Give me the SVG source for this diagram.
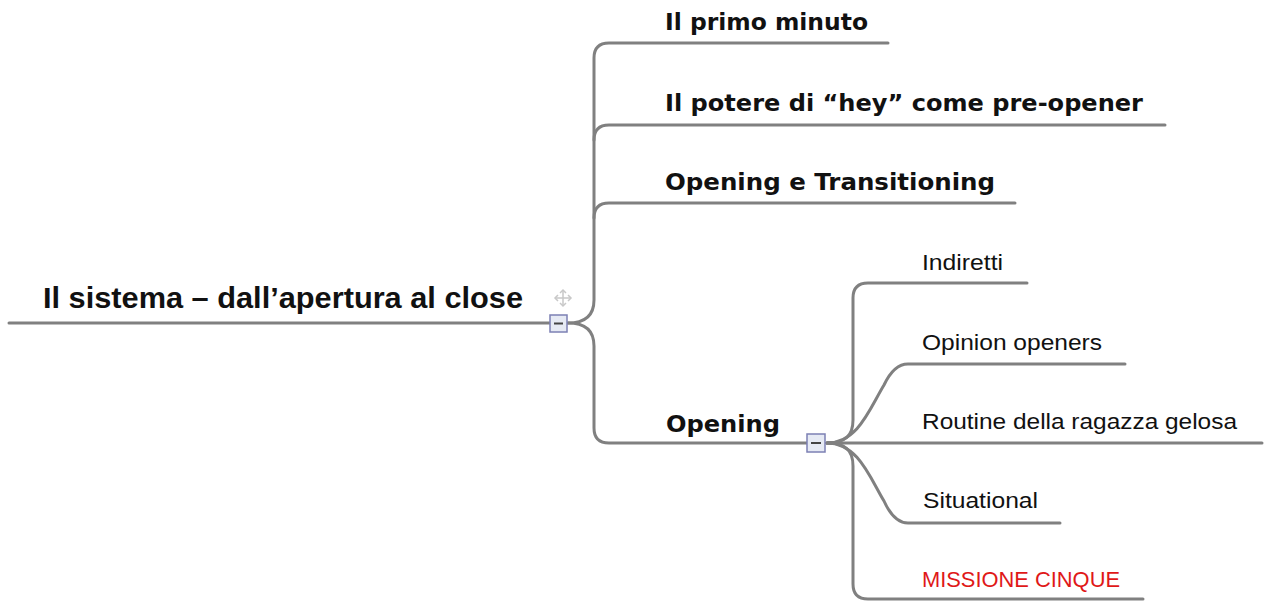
<svg xmlns="http://www.w3.org/2000/svg" width="1265" height="601" viewBox="0 0 1265 601">
<style>
.ln{fill:none;stroke:#808080;stroke-width:3;stroke-linecap:round}
.t1{font-family:"DejaVu Sans",Verdana,sans-serif;font-weight:bold;font-size:23px;fill:#111}
.t0{font-family:"Liberation Sans",Arial,sans-serif;font-weight:bold;font-size:30px;fill:#111}
.t2{font-family:"Liberation Sans",Arial,sans-serif;font-size:22px;fill:#111}
.box{fill:#e6eaf4;stroke:#7c80b4;stroke-width:1.5}
.minus{stroke:#444;stroke-width:2}
</style>
<rect width="1265" height="601" fill="#fff"/>
<g id="connectors">
<path class="ln" d="M9,323 L550,323"/>
<path class="ln" d="M568,323 C585,323 594,316 594,300 L594,58 Q594,43 609,43 L888,43"/>
<path class="ln" d="M594,140 Q594,125 609,125 L1165,125"/>
<path class="ln" d="M594,218 Q594,203 609,203 L1015,203"/>
<path class="ln" d="M568,323 C585,323 594,330 594,346 L594,428 Q594,443 609,443 L807,443"/>
<path class="ln" d="M827,443 C845,443 853,436 853,420 L853,298 Q853,283 868,283 L1027,283"/>
<path class="ln" d="M827,443 C858,443 870,408 884,385 Q894,364 908,364 L1125,364"/>
<path class="ln" d="M827,443 L1262,443"/>
<path class="ln" d="M827,443 C858,443 870,478 884,501 Q894,523 908,523 L1060,523"/>
<path class="ln" d="M827,443 C845,443 853,450 853,466 L853,584 Q853,599 868,599 L1143,599"/>
</g>
<g id="root">
<text class="t0" x="43" y="308" textLength="480" lengthAdjust="spacingAndGlyphs">Il sistema – dall’apertura al close</text>
<rect class="box" x="550" y="315" width="17" height="17"/>
<line class="minus" x1="554" y1="323.5" x2="563" y2="323.5"/>
<g id="move-icon" fill="none" stroke="#c8c8c8" stroke-width="1.5">
<path d="M563,290 L563,306 M555,298 L571,298"/>
<path d="M560,293 L563,290 L566,293 M560,303 L563,306 L566,303 M558,295 L555,298 L558,301 M568,295 L571,298 L568,301"/>
</g>
</g>
<g id="n-primo"><text class="t1" x="665" y="30" textLength="203" lengthAdjust="spacingAndGlyphs">Il primo minuto</text></g>
<g id="n-potere"><text class="t1" x="665" y="111" textLength="478" lengthAdjust="spacingAndGlyphs">Il potere di “hey” come pre-opener</text></g>
<g id="n-opentrans"><text class="t1" x="665" y="190" textLength="330" lengthAdjust="spacingAndGlyphs">Opening e Transitioning</text></g>
<g id="n-opening">
<text class="t1" x="666" y="432" textLength="114" lengthAdjust="spacingAndGlyphs">Opening</text>
<rect class="box" x="807" y="434" width="18" height="18"/>
<line class="minus" x1="811" y1="443" x2="821" y2="443"/>
</g>
<g id="n-indiretti"><text class="t2" x="922" y="270" textLength="81" lengthAdjust="spacingAndGlyphs">Indiretti</text></g>
<g id="n-opinion"><text class="t2" x="922" y="350" textLength="180" lengthAdjust="spacingAndGlyphs">Opinion openers</text></g>
<g id="n-routine"><text class="t2" x="922" y="429" textLength="315" lengthAdjust="spacingAndGlyphs">Routine della ragazza gelosa</text></g>
<g id="n-situational"><text class="t2" x="923" y="508" textLength="115" lengthAdjust="spacingAndGlyphs">Situational</text></g>
<g id="n-missione"><text class="t2" x="922" y="587" textLength="198" lengthAdjust="spacingAndGlyphs" fill="#e01818" style="fill:#e01818">MISSIONE CINQUE</text></g>
</svg>
